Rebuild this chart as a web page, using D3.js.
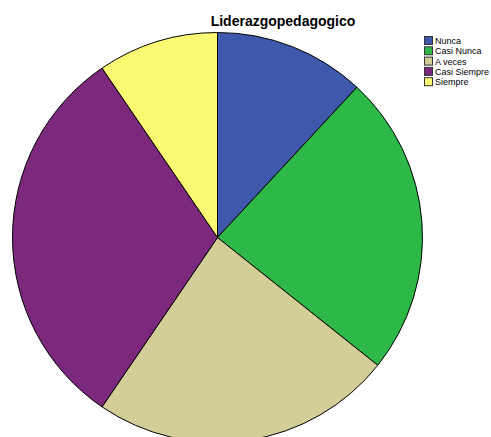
<!DOCTYPE html>
<html>
<head>
<meta charset="utf-8">
<script src="https://cdn.jsdelivr.net/npm/d3@7"></script>
<style>
  body { margin: 0; background: #fff; }
  svg { display: block; }
  .title { font: bold 14px Arial, "Liberation Sans", sans-serif; }
  .legend text { font: 9px Arial, "Liberation Sans", sans-serif; }
</style>
</head>
<body>
<div id="chart"></div>
<script>
const categories = ["Nunca", "Casi Nunca", "A veces", "Casi Siempre", "Siempre"];
const counts = [5, 10, 10, 13, 4];
const colors = ["#3E58AC", "#2EB848", "#D3CE97", "#7C287D", "#FBF873"];

const WIDTH = 491, HEIGHT = 437;
const CX = 217.5, CY = 237.5, R = 205;

const svg = d3.select("#chart").append("svg")
  .attr("width", WIDTH).attr("height", HEIGHT);

svg.append("text")
  .attr("class", "title")
  .attr("x", 283)
  .attr("y", 26)
  .attr("text-anchor", "middle")
  .text("Liderazgopedagogico");

const data = categories.map((c, i) => ({ cat: c, value: counts[i], color: colors[i] }));

const pie = d3.pie().sort(null).value(d => d.value);
const arc = d3.arc().innerRadius(0).outerRadius(R);

svg.append("g")
  .attr("transform", `translate(${CX},${CY})`)
  .selectAll("path")
  .data(pie(data))
  .join("path")
  .attr("d", arc)
  .attr("fill", d => d.data.color)
  .attr("stroke", "#000")
  .attr("stroke-width", 1);

// legend
const legend = svg.append("g").attr("class", "legend")
  .attr("transform", "translate(424, 36)");

const rows = legend.selectAll("g")
  .data(data)
  .join("g")
  .attr("transform", (d, i) => `translate(0, ${i * 10.3})`);

rows.append("rect")
  .attr("x", 0.5).attr("y", 0.5)
  .attr("width", 8).attr("height", 8)
  .attr("fill", d => d.color)
  .attr("stroke", "#333")
  .attr("stroke-width", 1);

rows.append("text")
  .attr("x", 11)
  .attr("y", 8)
  .text(d => d.cat);
</script>
</body>
</html>
